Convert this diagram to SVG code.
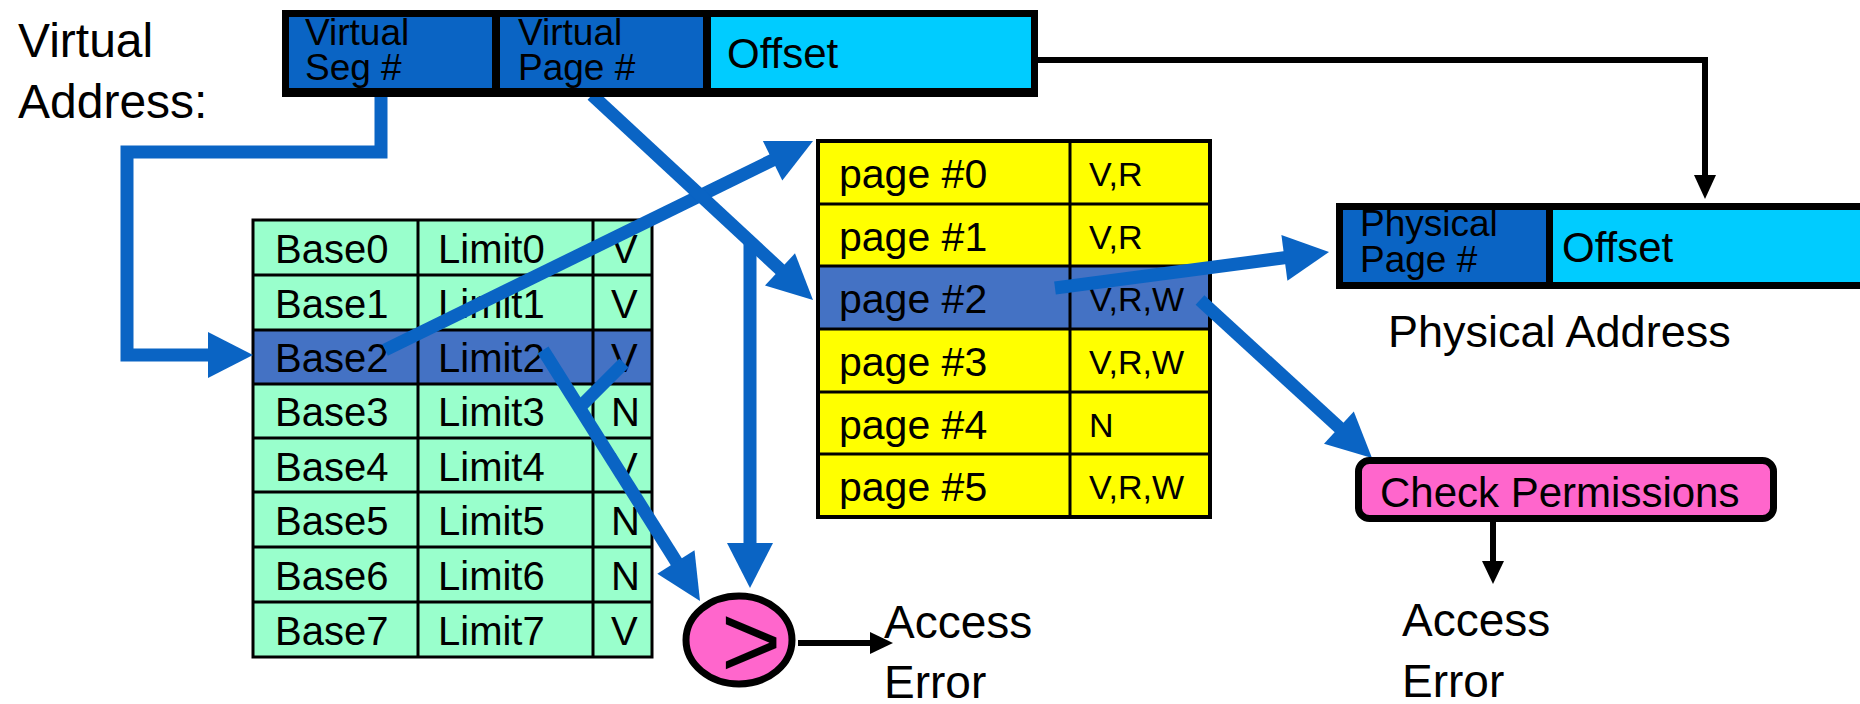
<svg xmlns="http://www.w3.org/2000/svg" width="1860" height="704" viewBox="0 0 1860 704">
<style>
text{font-family:"Liberation Sans",Arial,sans-serif;fill:#000}
.big{font-size:48px}
.cell{font-size:37px}
.tb{font-size:40px}
.pg{font-size:41px}
.perm{font-size:34px}
.lbl{font-size:46px}
.grid{stroke:#000;stroke-width:3}
.blue{stroke:#0A64C4;stroke-width:13;fill:none}
.bluefill{fill:#0A64C4}
.blk{stroke:#000;stroke-width:6;fill:none}
</style>
<rect width="1860" height="704" fill="#fff"/>

<g id="label-virtual-address">
<text class="big" x="18" y="57">Virtual</text>
<text class="big" x="18" y="118">Address:</text>
</g>

<g id="segment-table">
<rect x="253" y="220" width="399" height="437" fill="#99FFCC"/>
<rect x="253" y="330" width="399" height="54" fill="#4472C4"/>
<g class="grid">
<line x1="253" y1="275" x2="652" y2="275"/>
<line x1="253" y1="330" x2="652" y2="330"/>
<line x1="253" y1="384" x2="652" y2="384"/>
<line x1="253" y1="438" x2="652" y2="438"/>
<line x1="253" y1="492" x2="652" y2="492"/>
<line x1="253" y1="547" x2="652" y2="547"/>
<line x1="253" y1="602" x2="652" y2="602"/>
<line x1="418" y1="220" x2="418" y2="657"/>
<line x1="593" y1="220" x2="593" y2="657"/>
<rect x="253" y="220" width="399" height="437" fill="none"/>
</g>
<g class="tb">
<text x="275" y="263">Base0</text><text x="438" y="263">Limit0</text><text x="611" y="263">V</text>
<text x="275" y="318">Base1</text><text x="438" y="318">Limit1</text><text x="611" y="318">V</text>
<text x="275" y="372">Base2</text><text x="438" y="372">Limit2</text><text x="611" y="372">V</text>
<text x="275" y="426">Base3</text><text x="438" y="426">Limit3</text><text x="611" y="426">N</text>
<text x="275" y="481">Base4</text><text x="438" y="481">Limit4</text><text x="611" y="481">V</text>
<text x="275" y="535">Base5</text><text x="438" y="535">Limit5</text><text x="611" y="535">N</text>
<text x="275" y="590">Base6</text><text x="438" y="590">Limit6</text><text x="611" y="590">N</text>
<text x="275" y="645">Base7</text><text x="438" y="645">Limit7</text><text x="611" y="645">V</text>
</g>
</g>

<g id="page-table">
<rect x="818" y="141" width="392" height="376" fill="#FFFF00"/>
<rect x="818" y="266" width="392" height="63" fill="#4472C4"/>
<g class="grid">
<line x1="818" y1="204" x2="1210" y2="204"/>
<line x1="818" y1="266" x2="1210" y2="266"/>
<line x1="818" y1="329" x2="1210" y2="329"/>
<line x1="818" y1="392" x2="1210" y2="392"/>
<line x1="818" y1="454" x2="1210" y2="454"/>
<line x1="1070" y1="141" x2="1070" y2="517"/>
<rect x="818" y="141" width="392" height="376" fill="none" stroke-width="4"/>
</g>
<g class="pg">
<text x="839" y="188">page #0</text>
<text x="839" y="251">page #1</text>
<text x="839" y="313">page #2</text>
<text x="839" y="376">page #3</text>
<text x="839" y="439">page #4</text>
<text x="839" y="501">page #5</text>
</g>
<g class="perm">
<text x="1089" y="186">V,R</text>
<text x="1089" y="249">V,R</text>
<text x="1089" y="311">V,R,W</text>
<text x="1089" y="374">V,R,W</text>
<text x="1089" y="437">N</text>
<text x="1089" y="499">V,R,W</text>
</g>
</g>

<g id="physical-address">
<rect x="1339.5" y="206.5" width="530" height="79" fill="#00CCFF" stroke="#000" stroke-width="7"/>
<rect x="1343" y="210" width="203" height="72" fill="#0A64C4"/>
<text class="cell" x="1360" y="236">Physical</text>
<text class="cell" x="1360" y="272">Page #</text>
<rect x="1339.5" y="206.5" width="530" height="79" fill="none" stroke="#000" stroke-width="7"/>
<line x1="1549.5" y1="206" x2="1549.5" y2="286" stroke="#000" stroke-width="7"/>
<text x="1562" y="262" style="font-size:42px">Offset</text>
</g>

<g id="label-physical-address">
<text x="1388" y="347" style="font-size:45px">Physical Address</text>
</g>

<g id="connectors">
<path class="blue" d="M381,97 V152 H127 V355 H212" stroke-linejoin="miter"/>
<polygon class="bluefill" points="253,355 208,332 208,378"/>
<line class="blue" x1="385" y1="350" x2="777" y2="158"/>
<polygon class="bluefill" points="813,141 782.3,180.5 762.9,140.9"/>
<line class="blue" x1="592" y1="95" x2="784" y2="273"/>
<polygon class="bluefill" points="813,300 765,285.5 795,253.3"/>
<line class="blue" x1="750" y1="243" x2="750" y2="548"/>
<polygon class="bluefill" points="750,588 727,543 773,543"/>
<line class="blue" x1="543" y1="350" x2="679" y2="566"/>
<polygon class="bluefill" points="700,601 657.3,573.8 694.5,550.2"/>
<line class="blue" x1="624" y1="363" x2="579" y2="408"/>
<line class="blue" x1="1055" y1="288" x2="1290" y2="257"/>
<polygon class="bluefill" points="1329,252 1287.4,280.7 1281.4,235.1"/>
<line class="blue" x1="1200" y1="300" x2="1343" y2="431"/>
<polygon class="bluefill" points="1372,458 1324,443.8 1353.8,411.4"/>
<path class="blk" d="M1038,60 H1705 V180"/>
<polygon points="1705,199 1694,175 1716,175" fill="#000"/>
<line class="blk" x1="798" y1="643" x2="873" y2="643"/>
<polygon points="893,643 870,632 870,654" fill="#000"/>
<line class="blk" x1="1493" y1="522" x2="1493" y2="564"/>
<polygon points="1493,584 1482,561 1504,561" fill="#000"/>
</g>

<g id="virtual-address">
<rect x="282" y="10" width="756" height="87" fill="#000"/>
<rect x="289" y="17" width="203" height="71" fill="#0A64C4"/>
<rect x="500" y="17" width="203" height="71" fill="#0A64C4"/>
<rect x="711" y="17" width="320" height="71" fill="#00CCFF"/>
<text class="cell" x="305" y="45">Virtual</text>
<text class="cell" x="305" y="80">Seg #</text>
<text class="cell" x="518" y="45">Virtual</text>
<text class="cell" x="518" y="80">Page #</text>
<rect x="285.5" y="13.5" width="749" height="80" fill="none" stroke="#000" stroke-width="7"/>
<text x="727" y="68" style="font-size:42px">Offset</text>
</g>

<g id="comparator">
<ellipse cx="739" cy="640" rx="53" ry="44" fill="#FF66CC" stroke="#000" stroke-width="7"/>
<text x="751" y="677" text-anchor="middle" style="font-size:104px">&gt;</text>
</g>

<g id="access-error-1">
<text class="lbl" x="884" y="638">Access</text>
<text class="lbl" x="884" y="698">Error</text>
</g>

<g id="check-permissions">
<rect x="1358.5" y="460.5" width="415" height="58" rx="11" fill="#FF66CC" stroke="#000" stroke-width="7"/>
<text x="1380" y="507" style="font-size:42px">Check Permissions</text>
</g>

<g id="access-error-2">
<text class="lbl" x="1402" y="636">Access</text>
<text class="lbl" x="1402" y="697">Error</text>
</g>
</svg>
